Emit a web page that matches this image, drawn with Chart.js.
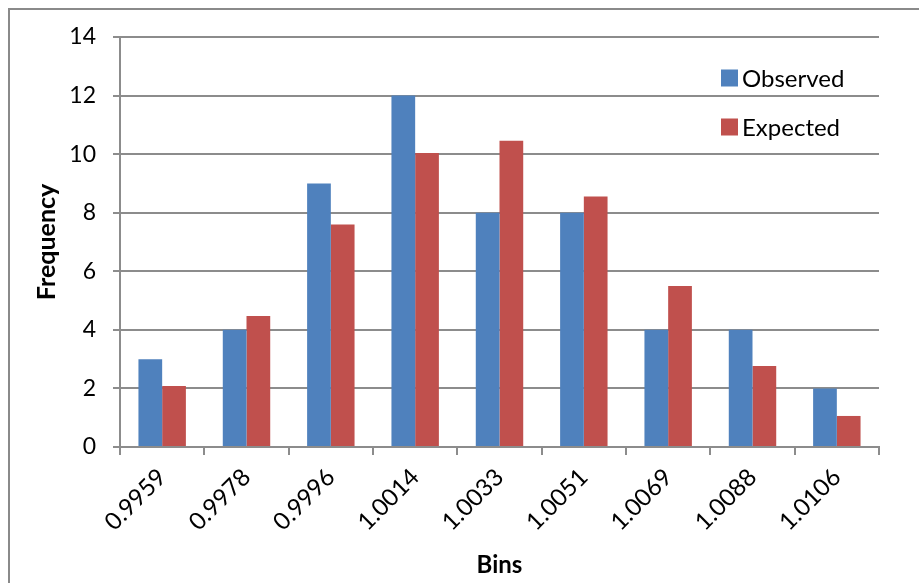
<!DOCTYPE html>
<html>
<head>
<meta charset="utf-8">
<script src="https://cdn.jsdelivr.net/npm/chart.js@4"></script>
<style>
  html, body { margin: 0; padding: 0; background: #fff; }
  #wrap { width: 919px; height: 583px; position: relative; }
</style>
</head>
<body>
<div id="wrap"><canvas id="histChart" width="919" height="583"></canvas></div>
<script>
// bins and frequencies
const bins = ['0.9959', '0.9978', '0.9996', '1.0014', '1.0033', '1.0051', '1.0069', '1.0088', '1.0106'];
const observed = [3, 4, 9, 12, 8, 8, 4, 4, 2];
const expected = [2.08, 4.47, 7.6, 10.04, 10.46, 8.55, 5.5, 2.77, 1.06];
const yTicks = [0, 2, 4, 6, 8, 10, 12, 14];

const FONT = 'Lato, "Liberation Sans", sans-serif';
const GRID = '#8c8c8c';

// outer frame + legend drawn inside the plot area, like the excel original
const framePlugin = {
    id: 'frame',
    beforeDraw(chart) {
        const c = chart.ctx;
        c.save();
        c.fillStyle = '#fff';
        c.fillRect(0, 0, chart.width, chart.height);
        c.strokeStyle = '#8a8a8a';
        c.lineWidth = 2;
        c.strokeRect(9, 9, 1000, 1000);
        c.restore();
    },
    afterDraw(chart) {
        const c = chart.ctx;
        c.save();
        c.font = '24px ' + FONT;
        c.textBaseline = 'middle';
        chart.data.datasets.forEach(function(ds, i) {
            const y = 78 + i * 49;
            c.fillStyle = ds.backgroundColor;
            c.fillRect(721, y - 8.5, 17, 17);
            c.fillStyle = '#000';
            c.fillText(ds.label, 742, y + 1);
        });
        c.restore();
    }
};

const ctx = document.getElementById('histChart').getContext('2d');
new Chart(ctx, {
    type: 'bar',
    data: {
        labels: bins,
        datasets: [
            {
                label: 'Observed',
                data: observed,
                backgroundColor: '#4F81BD',
                borderWidth: 0
            },
            {
                label: 'Expected',
                data: expected,
                backgroundColor: '#C0504D',
                borderWidth: 0
            }
        ]
    },
    options: {
        responsive: false,
        animation: false,
        layout: { padding: { left: 0, right: 40, top: 37, bottom: 0 } },
        datasets: {
            bar: { categoryPercentage: 0.5625, barPercentage: 1.0 }
        },
        scales: {
            x: {
                grid: {
                    offset: true,
                    drawOnChartArea: false,
                    drawTicks: true,
                    tickLength: 8,
                    color: GRID,
                    lineWidth: 2
                },
                border: { color: GRID, width: 2 },
                ticks: {
                    color: '#000',
                    font: { family: FONT, size: 24 },
                    minRotation: 45,
                    maxRotation: 45,
                    padding: 8
                },
                title: {
                    display: true,
                    text: 'Bins',
                    color: '#000',
                    font: { family: FONT, size: 24, weight: 'bold' },
                    padding: { top: 2, bottom: 3 }
                },
                afterFit(scale) { scale.height = 136; }
            },
            y: {
                min: 0,
                max: 14,
                afterBuildTicks(scale) {
                    scale.ticks = yTicks.map(v => ({ value: v }));
                },
                grid: {
                    color: GRID,
                    lineWidth: 2,
                    tickLength: 7
                },
                border: { color: GRID, width: 2 },
                ticks: {
                    color: '#000',
                    font: { family: FONT, size: 23 },
                    padding: 17
                },
                title: {
                    display: true,
                    text: 'Frequency',
                    color: '#000',
                    font: { family: FONT, size: 25, weight: 'bold' },
                    padding: { top: 32, bottom: 0 }
                },
                afterFit(scale) { scale.width = 120; }
            }
        },
        plugins: {
            legend: { display: false },
            tooltip: { enabled: false }
        }
    },
    plugins: [framePlugin]
});
</script>
</body>
</html>
